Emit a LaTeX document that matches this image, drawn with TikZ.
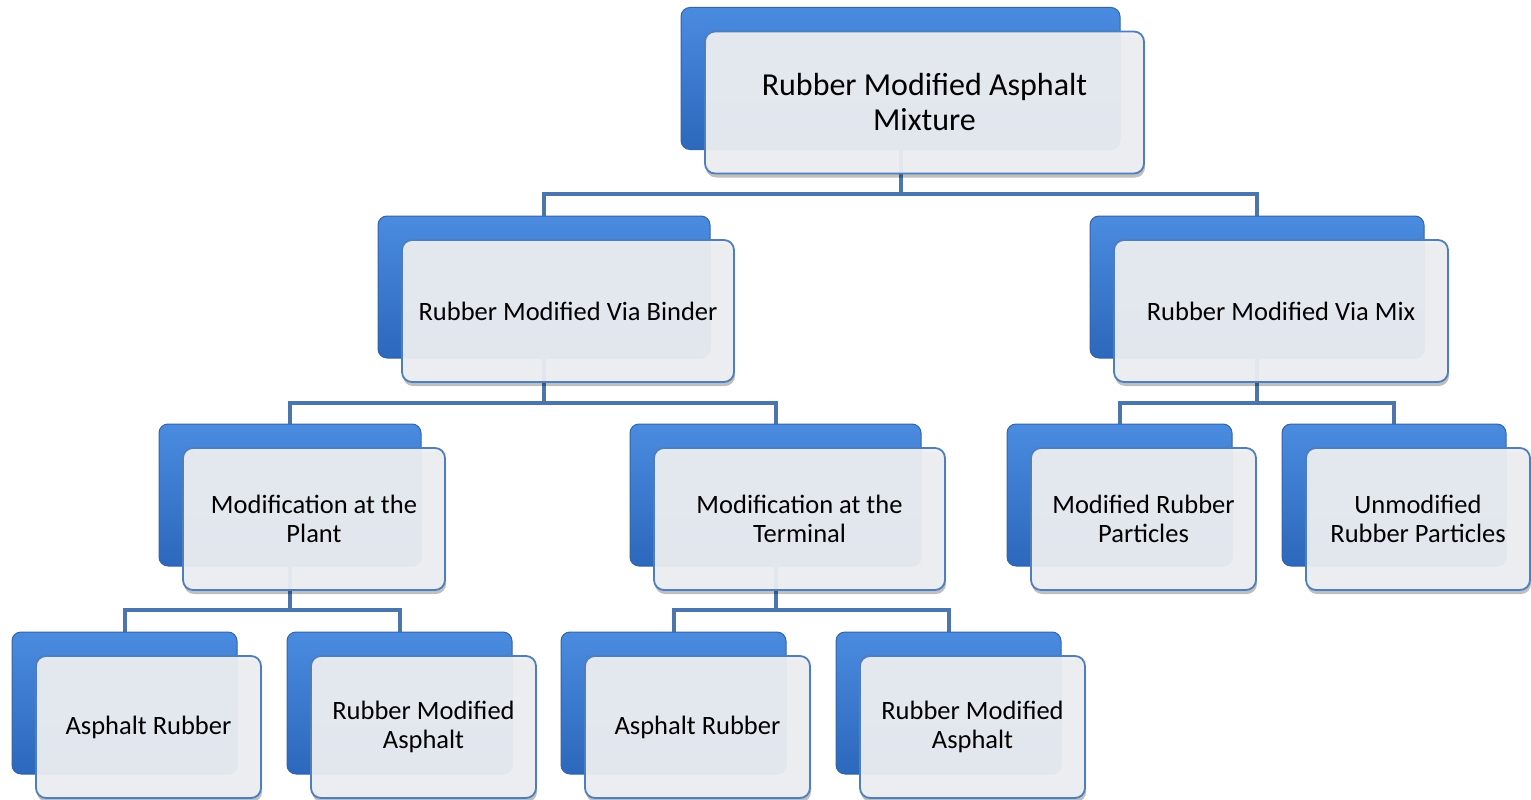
\documentclass[tikz,border=0pt]{standalone}
\usepackage{fontspec}
\setmainfont{Carlito}
\usetikzlibrary{shadows,backgrounds,calc}
\definecolor{backtop}{HTML}{4A8BE0}
\definecolor{backbot}{HTML}{2C68BC}
\definecolor{backedge}{HTML}{3465A8}
\definecolor{frontfill}{HTML}{EDEFF3}
\definecolor{frontedge}{HTML}{4F7EBE}
\definecolor{connc}{HTML}{4A76AD}
\tikzset{
  backbox/.style={rounded corners=9pt, draw=backedge, line width=1pt,
    top color=backtop, bottom color=backbot, inner sep=0pt},
  frontbox/.style={rounded corners=10pt, draw=frontedge, line width=1.8pt,
    fill=frontfill, fill opacity=0.95, text opacity=1, inner sep=0pt,
    drop shadow={shadow xshift=1pt, shadow yshift=-4pt, opacity=0.25, fill=black},
    align=center, font=\fontsize{26.5}{29}\selectfont},
  bigtext/.style={font=\fontsize{32}{35}\selectfont},
  connector/.style={draw=connc, line width=4pt},
}
\newcommand\tbox[7][]{%
  \node[backbox, minimum width=#5pt, minimum height=#6pt] (#2-b) at (#3-24,#4-24) {};
  \node[frontbox, minimum width=#5pt, minimum height=#6pt, #1] (#2) at (#3,#4) {#7};
}
\begin{document}
\begin{tikzpicture}[x=1pt,y=-1pt]
\useasboundingbox (0,0) rectangle (1531,800);
\tbox[bigtext]{top}{924.5}{102.5}{439}{142}{Rubber Modified Asphalt\\Mixture}
\tbox{binder}{568}{311}{332}{142}{Rubber Modified Via Binder}
\tbox{mix}{1281}{311}{334}{142}{Rubber Modified Via Mix}
\tbox{plant}{314}{519}{262}{142}{Modification at the\\Plant}
\tbox{terminal}{799.5}{519}{291}{142}{Modification at the\\Terminal}
\tbox{modrp}{1143.5}{519}{225}{142}{Modified Rubber\\Particles}
\tbox{unmod}{1418}{519}{224}{142}{Unmodified\\Rubber Particles}
\tbox{ar1}{148.5}{727}{225}{142}{Asphalt Rubber}
\tbox{rma1}{423.5}{727}{225}{142}{Rubber Modified\\Asphalt}
\tbox{ar2}{697.5}{727}{225}{142}{Asphalt Rubber}
\tbox{rma2}{972.5}{727}{225}{142}{Rubber Modified\\Asphalt}
\coordinate (busA) at (0,194);
\coordinate (busB) at (0,403);
\coordinate (busC) at (0,610);
\begin{scope}[on background layer]
  \foreach \p/\c/\bus in {top/binder/busA, top/mix/busA,
      binder/plant/busB, binder/terminal/busB,
      mix/modrp/busB, mix/unmod/busB,
      plant/ar1/busC, plant/rma1/busC,
      terminal/ar2/busC, terminal/rma2/busC}{
    \draw[connector] (\p-b.south) -- (\p-b.south |- \bus) -| (\c-b.north);
  }
\end{scope}
\end{tikzpicture}
\end{document}
